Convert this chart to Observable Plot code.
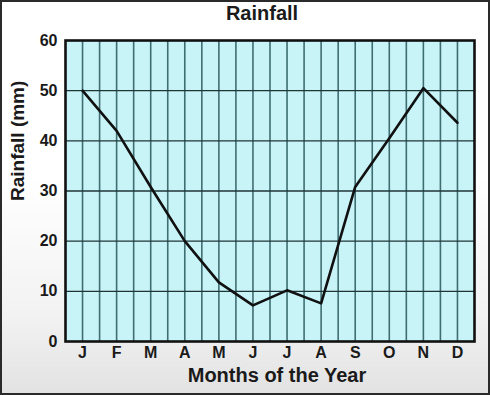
<!DOCTYPE html>
<html>
<head>
<meta charset="utf-8">
<script src="https://cdn.jsdelivr.net/npm/d3@7"></script>
<script src="https://cdn.jsdelivr.net/npm/@observablehq/plot@0.6"></script>
<style>
  html, body { margin: 0; padding: 0; }
  #page {
    position: relative; width: 490px; height: 395px; overflow: hidden;
    background: linear-gradient(to bottom, #ffffff 0%, #ffffff 45%, #f2f2f2 80%, #e2e2e2 100%);
    font-family: "Liberation Sans", Arial, sans-serif;
  }
  #title {
    position: absolute; left: 0; top: 0; width: 490px; height: 28px;
    box-sizing: border-box; padding-left: 34px;
    text-align: center; font-size: 20px; font-weight: bold; line-height: 26px; color: #1a1a1a;
  }
  #chart { position: absolute; left: 0; top: 28px; }
  #border {
    position: absolute; left: 0; top: 0; width: 490px; height: 395px;
    box-sizing: border-box; border: 2px solid #2a2a2a; pointer-events: none;
  }
</style>
</head>
<body>
<div id="page">
  <div id="title">Rainfall</div>
  <div id="chart"></div>
  <div id="border"></div>
</div>
<script>
const months = ["J","F","M","A","M","J","J","A","S","O","N","D"];
const rainfall = [50, 42, 30.8, 20, 11.8, 7.2, 10.2, 7.6, 30.8, 40.5, 50.5, 43.6];
const yTicks = [0, 10, 20, 30, 40, 50, 60];
const xLabel = "Months of the Year";
const yLabel = "Rainfall (mm)";

const data = months.map((m, i) => ({idx: i + 0.5, month: m, value: rainfall[i]}));
const font = '"Liberation Sans", Arial, sans-serif';

const chart = Plot.plot({
  width: 490,
  height: 367,
  marginTop: 12,
  marginBottom: 54,
  marginLeft: 65,
  marginRight: 16,
  style: {fontFamily: font, fontSize: "16px", fontWeight: "bold", color: "#1a1a1a", background: "transparent"},
  x: {domain: [0, months.length], axis: null},
  y: {domain: [0, 60], axis: null},
  marks: [
    Plot.frame({fill: "#c8f3f7", stroke: null}),
    Plot.ruleX(d3.range(0.5, months.length, 0.5), {stroke: "#3f6e72", strokeWidth: 1.6}),
    Plot.ruleY(yTicks.slice(1, -1), {stroke: "#1f3638", strokeWidth: 1.3}),
    Plot.line(data, {x: "idx", y: "value", stroke: "#111", strokeWidth: 2.6, strokeLinejoin: "round"}),
    Plot.frame({stroke: "#111", strokeWidth: 2.6}),
    Plot.axisX({ticks: data.map(d => d.idx), tickFormat: d => months[Math.floor(d)], tickSize: 0, tickPadding: 5, label: null, fontSize: 16, fontWeight: "bold", fill: "#1a1a1a"}),
    Plot.axisY({ticks: yTicks, tickSize: 0, tickPadding: 8, label: null, fontSize: 16, fontWeight: "bold", fill: "#1a1a1a"}),
    Plot.text([xLabel], {text: d => d, frameAnchor: "bottom", dy: 40, dx: 7, fontSize: 20, fontWeight: "bold", fill: "#1a1a1a"}),
    Plot.text([yLabel], {text: d => d, frameAnchor: "left", dx: -48, dy: 10, rotate: -90, fontSize: 19, fontWeight: "bold", fill: "#1a1a1a"})
  ]
});
document.getElementById("chart").appendChild(chart);
</script>
</body>
</html>
